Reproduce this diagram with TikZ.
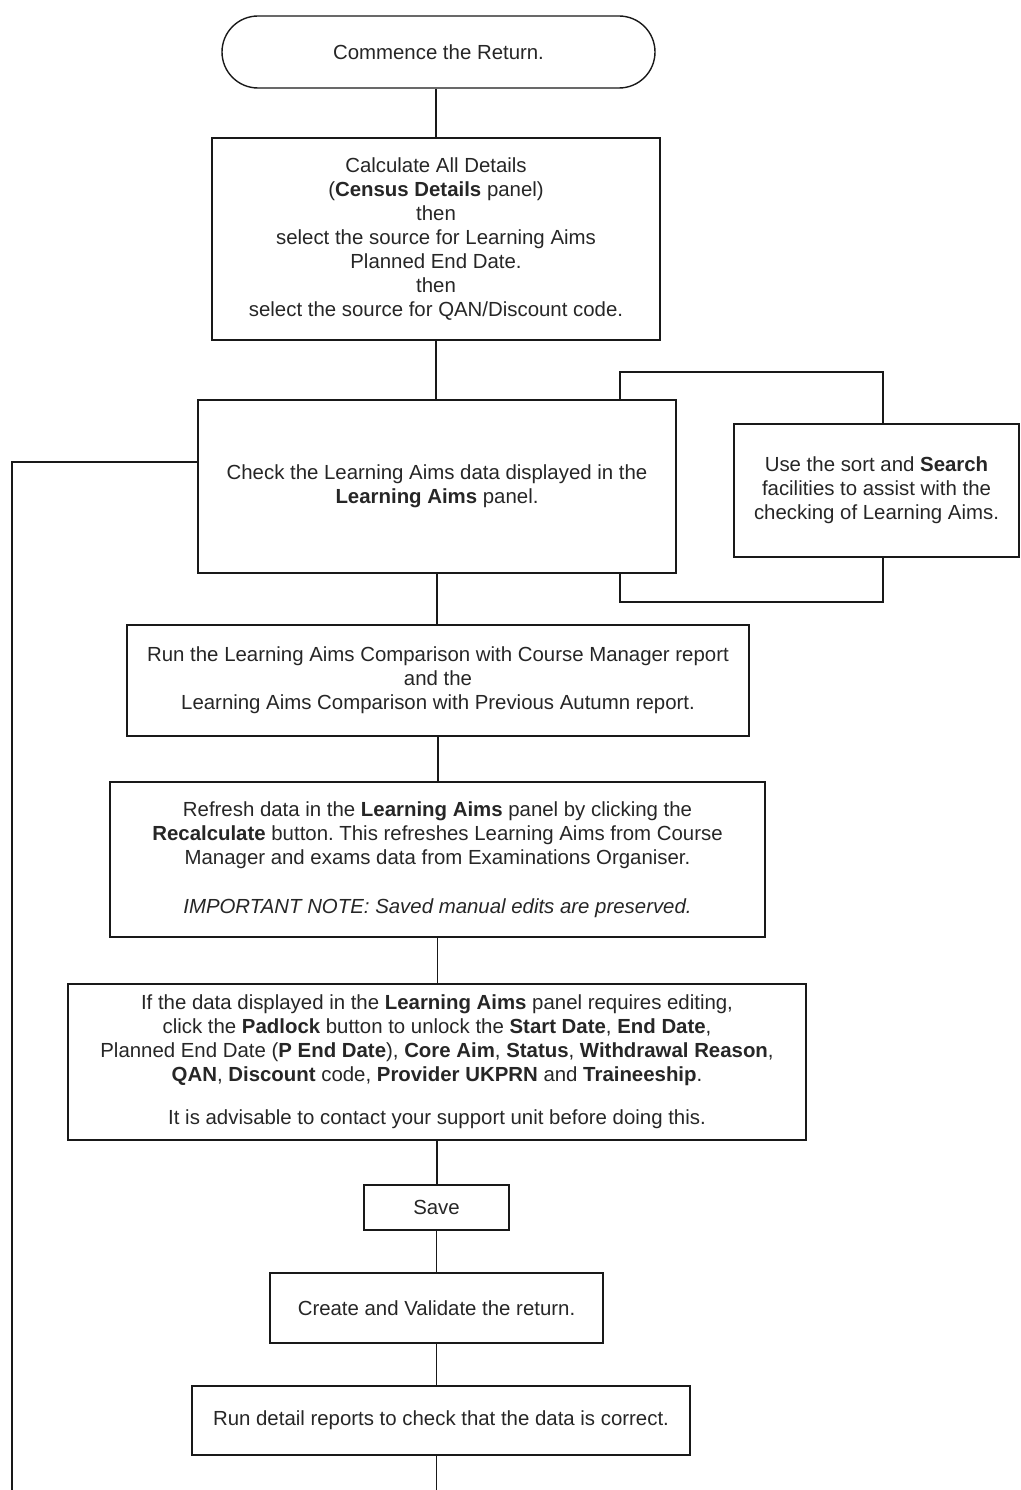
\documentclass[tikz,border=0pt]{standalone}
\usepackage{fontspec}
\setmainfont{Liberation Sans}
\usetikzlibrary{calc}
\frenchspacing
\begin{document}
\begin{tikzpicture}[x=1pt,y=1pt,
  every node/.style={font=\fontsize{20.4}{24}\selectfont, text=black!85, align=center, inner sep=0pt},
  boxnode/.style={draw=black!90, line width=1.4pt, rectangle},
  link/.style={draw=black!90, line width=1.4pt}]
\useasboundingbox (0,0) rectangle (1020,-1490);
% nodes: center (x,y), width, height
\node[boxnode, rounded corners=36pt, minimum width=433pt, minimum height=72pt] (term) at (438.5,-52) {Commence the Return.};
\node[boxnode, minimum width=448pt, minimum height=202pt] (calc) at (436,-239) {Calculate All Details\\(\textbf{Census Details} panel)\\then\\select the source for Learning Aims\\Planned End Date.\\then\\select the source for QAN/Discount code.};
\node[boxnode, minimum width=478pt, minimum height=173pt] (check) at (437,-486.5) {Check the Learning Aims data displayed in the\\\textbf{Learning Aims} panel.};
\node[boxnode, minimum width=285pt, minimum height=133pt] (use) at (876.5,-490.5) {Use the sort and \textbf{Search}\\facilities to assist with the\\checking of Learning Aims.};
\node[boxnode, minimum width=622pt, minimum height=111pt] (comp) at (438,-680.5) {Run the Learning Aims Comparison with Course Manager report\\and the\\Learning Aims Comparison with Previous Autumn report.};
\node[boxnode, minimum width=655pt, minimum height=155pt] (refresh) at (437.5,-859.5) {Refresh data in the \textbf{Learning Aims} panel by clicking the\\\textbf{Recalculate} button. This refreshes Learning Aims from Course\\Manager and exams data from Examinations Organiser.\\[25pt]\textit{IMPORTANT NOTE: Saved manual edits are preserved.}};
\node[boxnode, minimum width=738pt, minimum height=156pt] (edit) at (437,-1062) {If the data displayed in the \textbf{Learning Aims} panel requires editing,\\click the \textbf{Padlock} button to unlock the \textbf{Start Date}, \textbf{End Date},\\Planned End Date (\textbf{P End Date}), \textbf{Core Aim}, \textbf{Status}, \textbf{Withdrawal Reason},\\\textbf{QAN}, \textbf{Discount} code, \textbf{Provider UKPRN} and \textbf{Traineeship}.\\[19pt]It is advisable to contact your support unit before doing this.};
\node[boxnode, minimum width=145pt, minimum height=45pt] (save) at (436.5,-1207.5) {Save};
\node[boxnode, minimum width=333pt, minimum height=70pt] (create) at (436.5,-1308) {Create and Validate the return.};
\node[boxnode, minimum width=498pt, minimum height=69pt] (detail) at (441,-1420.5) {Run detail reports to check that the data is correct.};
% coordinates
\coordinate (L1) at (12,-462);
\coordinate (L2) at (12,-1490);
\coordinate (LT) at (620,-372);
\coordinate (RT) at (883,-372);
\coordinate (LB) at (620,-602);
\coordinate (RB) at (883,-602);
% connectors
\draw[link] (term.south -| calc.north) -- (calc.north);
\draw[link] (calc.south) -- (calc.south |- check.north);
\draw[link] (check.south) -- (check.south |- comp.north);
\draw[link] (comp.south) -- (comp.south |- refresh.north);
\draw[link] (refresh.south) -- (refresh.south |- edit.north);
\draw[link] (edit.south) -- (edit.south |- save.north);
\draw[link] (save.south) -- (save.south |- create.north);
\draw[link] (create.south) -- (create.south |- detail.north);
\draw[link] (detail.south -| create.south) -- (create.south |- L2);
\draw[link] (check.west |- L1) -- (L1) -- (L2);
\draw[link] (check.north -| LT) -- (LT) -- (RT) -- (use.north -| RT);
\draw[link] (use.south -| RB) -- (RB) -- (LB) -- (check.south -| LB);
\end{tikzpicture}
\end{document}
